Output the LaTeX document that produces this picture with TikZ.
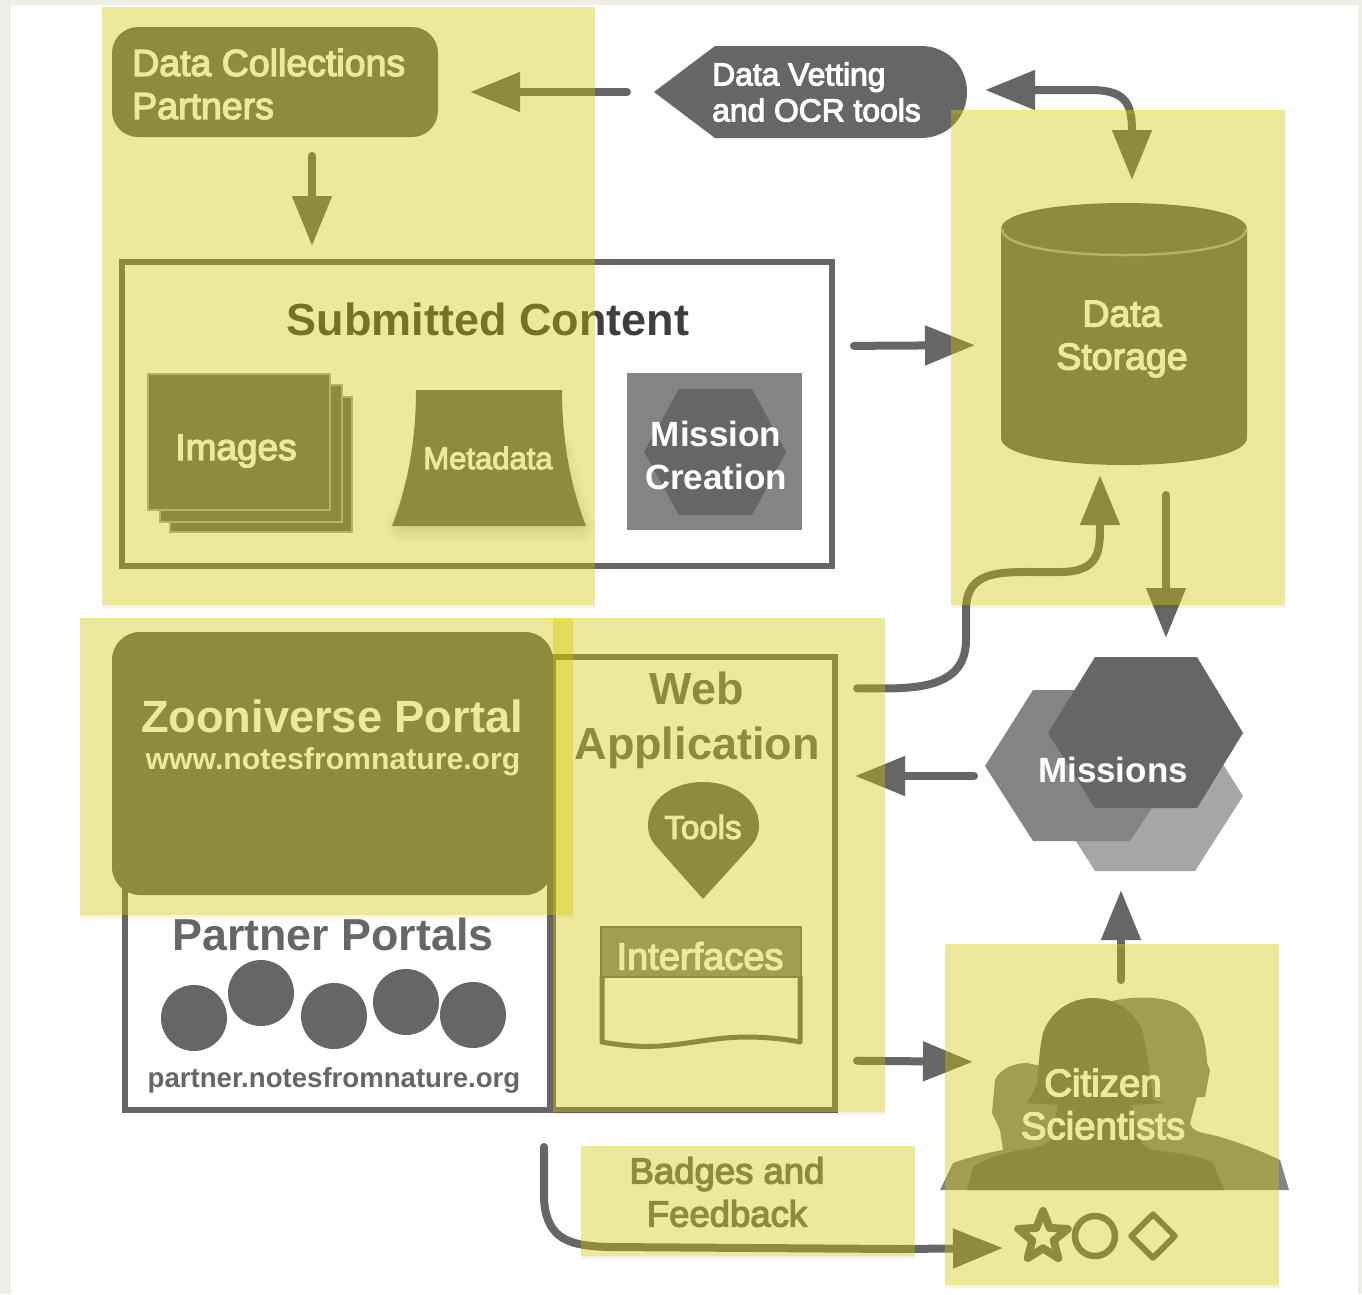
\documentclass[tikz,border=0pt]{standalone}
\usepackage{fontspec}
\setmainfont{Liberation Sans}
\newfontfamily\medf[FakeBold=3.5]{Liberation Sans}
\usetikzlibrary{arrows.meta,shapes.geometric}
\definecolor{pagebg}{RGB}{238,238,230}
\definecolor{gdark}{RGB}{102,102,102}
\definecolor{gmid}{RGB}{132,132,132}
\definecolor{glight}{RGB}{166,166,166}
\definecolor{gtitle}{RGB}{62,62,62}
\definecolor{ovl}{RGB}{208,200,0}
\newcommand{\pxbox}[6][]{%
  \pgfmathsetmacro{\bw}{#5-#3}\pgfmathsetmacro{\bh}{#6-#4}%
  \pgfmathsetmacro{\bx}{(#5+#3)/2}\pgfmathsetmacro{\by}{(#6+#4)/2}%
  \node[inner sep=0pt,outer sep=0pt,minimum width=\bw pt,minimum height=\bh pt,#1] (#2) at (\bx,\by) {};}
\newcommand{\fsz}[1]{\fontsize{#1}{43}\selectfont}
\newcommand{\fszl}[2]{\fontsize{#1}{#2}\selectfont}
\tikzset{
  x=1pt,y=-1pt,
  darkfill/.style={fill=gdark,draw=none},
  frame/.style={draw=gdark,line width=6pt,fill=none},
  arr/.style={draw=gdark,line width=8pt,line cap=round,-{Triangle[length=50pt,width=38pt]}},
  arrboth/.style={draw=gdark,line width=8pt,{Triangle[length=50pt,width=38pt]}-{Triangle[length=50pt,width=38pt]}},
  lab/.style={align=center,inner sep=0pt,text=white},
  graylab/.style={lab,text=gdark},
  overlay/.style={fill=ovl,fill opacity=.385,draw=none},
  oshadow/.style={fill=black,fill opacity=.05,draw=none},
  otop/.style={fill=yellow,fill opacity=.12,draw=none}
}
\begin{document}
\begin{tikzpicture}
\useasboundingbox (0,0) rectangle (1362,1294);
\fill[pagebg] (0,0) rectangle (1362,1294);
\fill[white] (11,5) rectangle (1358,1294);

% Partners
\pxbox[darkfill,rounded corners=26pt]{partners}{112}{27}{438}{137}
\node[lab,font=\medf\fsz{37.5},align=left,anchor=west] (partnersT) at (132,84) {Data Collections\\Partners};

% Vetting tools
\pxbox{vet}{654}{46}{967}{138}
\fill[gdark] (654,92) -- (715,46) -- (921,46) .. controls (947,46) and (967,66) .. (967,92) .. controls (967,118) and (947,138) .. (921,138) -- (715,138) -- cycle;
\node[lab,font=\medf\fszl{31.8}{36},align=left,anchor=west] (vetT) at (712,92) {Data Vetting\\and OCR tools};

% Submitted content
\pxbox[frame]{content}{122}{262}{832}{566}
\node[lab,text=gtitle,font=\bfseries\fsz{45}] (contentT) at (488,319) {Submitted Content};
% Images
\fill[gdark,draw=glight,line width=1.5pt] (170,397) rectangle (352,532);
\fill[gdark,draw=glight,line width=1.5pt] (160,385) rectangle (342,522);
\fill[gdark,draw=glight,line width=1.5pt] (148,374) rectangle (330,510);
\node[lab,font=\medf\fsz{37}] (imagesT) at (236,451) {Images};
% Metadata
\foreach \w in {34,28,22,16,10,4}{
  \path[fill=black,draw=black,opacity=.022,line width=\w pt,line join=round] (430,450) -- (558,450) .. controls (562,480) and (570,505) .. (578,526) -- (402,526) .. controls (415,505) and (426,480) .. cycle;}
\fill[gdark] (416,390) -- (562,390) .. controls (562,445) and (572,490) .. (586,526) -- (392,526) .. controls (406,490) and (416,445) .. cycle;
\node[lab,font=\medf\fsz{31}] (metaT) at (488,458) {Metadata};
% Mission creation
\pxbox[fill=gmid]{mcbox}{627}{373}{802}{530}
\fill[gdark] (679,389) -- (752,389) -- (786,452) -- (752,515) -- (679,515) -- (644,452) -- cycle;
\node[lab,font=\bfseries\fsz{35}] (mcT) at (716,455) {Mission\\Creation};

% Data storage
\pxbox{storage}{1001}{203}{1247}{465}
\fill[gdark] (1001,229) -- (1001,438) .. controls (1001,455) and (1060,465) .. (1124,465) .. controls (1188,465) and (1247,455) .. (1247,438) -- (1247,229) .. controls (1247,212) and (1188,203) .. (1124,203) .. controls (1060,203) and (1001,212) .. cycle;
\draw[glight,line width=2.5pt] (1002,229) .. controls (1002,246) and (1060,255) .. (1124,255) .. controls (1188,255) and (1246,246) .. (1246,229);
\node[lab,font=\medf\fsz{37.5}] (storageT) at (1122,339) {Data\\Storage};

% Missions
\pxbox{missions}{985}{657}{1243}{871}
\fill[glight] (1095,720) -- (1195,720) -- (1243,796) -- (1195,871) -- (1095,871) -- (1047,796) -- cycle;
\fill[gmid] (1033,690) -- (1130,690) -- (1180,766) -- (1130,841) -- (1033,841) -- (985,766) -- cycle;
\fill[gdark] (1095,657) -- (1197,657) -- (1243,733) -- (1197,808) -- (1095,808) -- (1048,733) -- cycle;
\node[lab,font=\bfseries\fsz{35}] (missionsT) at (1113,770) {Missions};

% Partner portals
\pxbox[draw=gdark,line width=5.5pt]{ppbox}{125}{880}{550}{1110}
\node[lab,text=gdark,font=\bfseries\fsz{44.8}] (ppT) at (333,934) {Partner Portals};
\foreach \n/\cx/\cy in {a/194/1018,b/261/993,c/334/1016,d/406/1002,e/473/1015}
  \node[circle,fill=gdark,minimum size=66pt,inner sep=0pt] (pp\n) at (\cx,\cy) {};
\node[lab,text=gdark,font=\bfseries\fsz{27.6}] (ppU) at (334,1080) {partner.notesfromnature.org};

% Web application
\pxbox[frame]{webapp}{553}{657}{835}{1110}
\node[lab,text=gdark,font=\bfseries\fszl{45}{55}] (webT) at (697,720) {Web\\Application};
% Tools
\pxbox{tools}{648}{783}{759}{899}
\fill[gdark] (703,899) -- (656,846) .. controls (650,839) and (648,833) .. (648,825) .. controls (648,800) and (672,782) .. (703,782) .. controls (734,782) and (759,800) .. (759,825) .. controls (759,833) and (757,839) .. (751,846) -- cycle;
\node[lab,font=\medf\fsz{33}] (toolsT) at (703,827) {Tools};
% Interfaces
\pxbox{ifbox}{601}{926}{801}{1046}
\draw[gdark,line width=5pt,line join=round] (602,976) -- (602,1042) .. controls (625,1046) and (640,1047) .. (660,1046) .. controls (690,1044) and (715,1037) .. (747,1037) .. controls (765,1037) and (785,1039) .. (800,1042) -- (800,976);
\fill[gmid,draw=gdark,line width=2.5pt,line join=round] (601,927) rectangle (801,977);
\node[lab,font=\medf\fsz{38}] (ifT) at (700,956) {Interfaces};

% Zooniverse portal
\pxbox[darkfill,rounded corners=28pt]{zoon}{112}{632}{553}{895}
\node[lab,font=\bfseries\fsz{45.2}] (zoonT) at (332,716) {Zooniverse Portal};
\node[lab,font=\bfseries\fsz{30.2}] (zoonU) at (333,762) {www.notesfromnature.org};

% Citizen scientists
\pxbox{citizens}{990}{998}{1220}{1190}
\fill[gmid] (1100,1190) -- (1100,1005) .. controls (1120,996) and (1160,994) .. (1180,1005) .. controls (1198,1015) and (1206,1035) .. (1207,1063) -- (1210,1070) -- (1205,1097) -- (1197,1097) -- (1190,1123) .. controls (1192,1130) and (1198,1132) .. (1203,1133) .. controls (1225,1137) and (1255,1148) .. (1280,1160) -- (1289,1190) -- cycle;
\fill[gmid] (1100,1190) -- (1100,1150) -- (1003,1150) -- (1000,1130) -- (992,1113) -- (995,1080) .. controls (1000,1068) and (1015,1063) .. (1027,1063) -- (1060,1070) -- (1100,1150) -- (1100,1190) -- (940,1190) -- (953,1163) .. controls (970,1157) and (990,1152) .. (1003,1150) -- (1100,1150) -- cycle;
\fill[gdark] (967,1190) -- (973,1167) .. controls (985,1158) and (1010,1152) .. (1020,1150) .. controls (1035,1148) and (1045,1146) .. (1050,1140) -- (1058,1105) -- (1027,1103) -- (1037,1085) .. controls (1039,1060) and (1040,1045) .. (1043,1033) .. controls (1050,1012) and (1070,998) .. (1093,998) .. controls (1116,998) and (1136,1012) .. (1143,1033) .. controls (1147,1050) and (1150,1075) .. (1153,1100) -- (1165,1103) -- (1132,1105) -- (1140,1140) .. controls (1143,1146) and (1148,1148) .. (1153,1150) .. controls (1180,1153) and (1205,1157) .. (1213,1163) -- (1224,1190) -- cycle;
\node[lab,font=\medf\fsz{38.4}] (citizensT) at (1103,1104) {Citizen\\Scientists};

% Badge icons
\node[star,star points=5,star point ratio=2.3,draw=gdark,line width=8pt,line join=round,minimum size=52pt,inner sep=0pt] (starI) at (1043,1237) {};
\node[circle,draw=gdark,line width=6.5pt,minimum size=40pt,inner sep=0pt] (circI) at (1095,1236) {};
\node[diamond,draw=gdark,line width=6pt,line join=round,minimum size=46pt,inner sep=0pt] (diamI) at (1153,1236) {};

% Badges label
\pxbox{badges}{581}{1146}{915}{1256}
\node[graylab,font=\medf\fsz{36.5}] (badgesT) at (727,1192) {Badges and\\Feedback};

% Connectors
\draw[arr,shorten <=27pt,shorten >=32pt] (vet.west) -- ([yshift=-10pt]partners.east);
\draw[arr,shorten <=19pt,shorten >=16pt] ([xshift=37pt]partners.south) -- ([xshift=-165pt]content.north);
\draw[arr,shorten <=22pt,shorten >=26pt] ([yshift=68pt]content.east) -- ([yshift=-11pt]storage.west);
\draw[arrboth,shorten <=18pt,shorten >=23pt] ([yshift=2pt]vet.east) -- (1090,90) .. controls (1122,90) and (1132,100) .. (1132,130) -- ([xshift=8pt]storage.north);
\draw[arr,shorten <=22pt,shorten >=10pt] ([yshift=195pt]webapp.east) .. controls (900,688) and (966,695) .. (966,640) -- (966,610) .. controls (966,570) and (1000,572) .. (1040,572) -- (1060,572) .. controls (1100,572) and (1100,550) .. (1100,525) -- ([xshift=-24pt]storage.south);
\draw[arr,shorten <=30pt,shorten >=19pt] ([xshift=42pt]storage.south) -- ([xshift=52pt]missions.north);
\draw[arr,shorten <=11pt,shorten >=20pt] ([yshift=-12pt]missions.west) -- ([yshift=107.5pt]webapp.east);
\draw[arr,shorten <=18pt,shorten >=19pt] ([xshift=16pt]citizens.north) -- ([xshift=7pt]missions.south);
\draw[arr,shorten <=22pt,shorten >=17pt] ([yshift=-177pt]webapp.east) -- ([yshift=32pt]citizens.west);
\draw[arr,shorten <=37pt] ([xshift=-150pt]webapp.south) -- (544,1200) .. controls (547,1240) and (570,1246) .. (610,1247) -- (900,1249) -- (1003,1248);

% Translucent yellow sheets
\foreach \a/\b/\c/\d in {102/7/595/605,951/110/1285/605,80/618/573/915,553/618/885/1112,945/944/1279/1285,581/1146/915/1256}{
  \fill[oshadow] (\a+1,\d) rectangle (\c+1,\d+3);
}
\fill[overlay] (102,7) rectangle (595,605);
\fill[overlay] (951,110) rectangle (1285,605);
\fill[overlay] (80,618) rectangle (573,915);
\fill[overlay] (553,618) rectangle (885,1112);
\fill[overlay] (945,944) rectangle (1279,1285);
\fill[overlay] (581,1146) rectangle (915,1256);
\foreach \a/\b/\c in {102/7/595,951/110/1285,80/618/573,553/618/885,945/944/1279,581/1146/915}{
  \fill[otop] (\a,\b) rectangle (\c,\b+4);
}
\end{tikzpicture}
\end{document}
